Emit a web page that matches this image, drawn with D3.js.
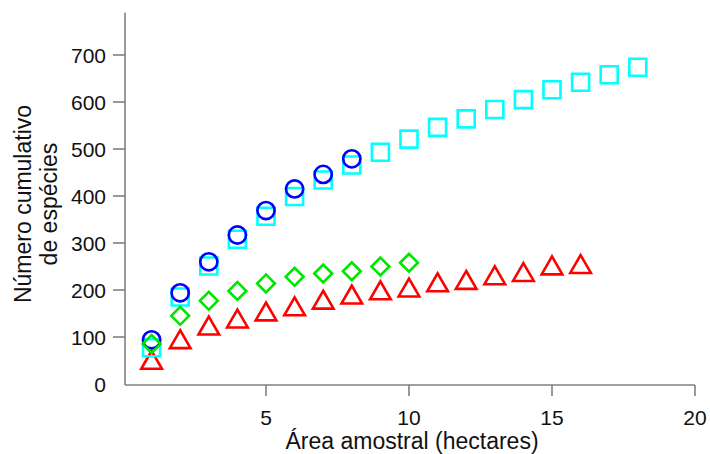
<!DOCTYPE html>
<html><head><meta charset="utf-8">
<script src="https://cdn.jsdelivr.net/npm/d3@7"></script>
<style>body{margin:0;background:#fff;} text{font-family:"Liberation Sans",Arial,sans-serif;fill:#111;}</style>
</head><body><svg id="c" width="710" height="454"></svg>
<script>
// Data
const circleX = [1,2,3,4,5,6,7,8];
const circleVals = [94,194,260,317,369,415,446,479];
const squareX = [1,2,3,4,5,6,7,8,9,10,11,12,13,14,15,16,17,18];
const squareVals = [77,185,251,308,357,399,434,466,493,521,546,564,584,605,626,642,658,674];
const diamondX = [1,2,3,4,5,6,7,8,9,10];
const diamondVals = [85,145,177,198,214,228,235,240,250,258];
const triangleX = [1,2,3,4,5,6,7,8,9,10,11,12,13,14,15,16];
const triangleVals = [45,89,118,133,148,159,173,184,193,199,210,215,225,232,246,249];
const xTicks = [5,10,15,20];
const yTicks = [0,100,200,300,400,500,600,700];
const xTitle = "Área amostral (hectares)";
const yTitle = ["Número cumulativo","de espécies"];

const svg = d3.select("#c");
const x = d3.scaleLinear().domain([0,20]).range([123,695]);
const y = d3.scaleLinear().domain([0,700]).range([384,55]);
const axisColor = "#808080";
const axX = 125, axY = 385, axTop = y(790);

// axes lines
svg.append("line").attr("x1",axX).attr("x2",axX).attr("y1",axTop).attr("y2",axY)
  .attr("stroke",axisColor).attr("stroke-width",1.6);
svg.append("line").attr("x1",axX).attr("x2",x(20)).attr("y1",axY).attr("y2",axY)
  .attr("stroke",axisColor).attr("stroke-width",1.6);

// x ticks
const gx = svg.append("g");
gx.selectAll("line").data(xTicks).join("line")
  .attr("x1",d=>x(d)).attr("x2",d=>x(d)).attr("y1",axY).attr("y2",axY+11)
  .attr("stroke",axisColor).attr("stroke-width",1.6);
gx.selectAll("text").data(xTicks).join("text")
  .attr("x",d=>x(d)).attr("y",425).attr("text-anchor","middle")
  .attr("font-size",21).text(d=>d);

// y ticks
const gy = svg.append("g");
gy.selectAll("line").data(yTicks.filter(d=>d>0)).join("line")
  .attr("x1",axX-12).attr("x2",axX).attr("y1",d=>y(d)).attr("y2",d=>y(d))
  .attr("stroke",axisColor).attr("stroke-width",1.6);
gy.selectAll("text").data(yTicks).join("text")
  .attr("x",106).attr("y",d=>y(d)).attr("dy","0.36em").attr("text-anchor","end")
  .attr("font-size",21).text(d=>d);

// titles
svg.append("text").attr("x",(axX+x(20))/2 + 2).attr("y",449).attr("text-anchor","middle")
  .attr("font-size",23).text(xTitle);
const yt = svg.append("text").attr("transform","translate(0,204) rotate(-90)")
  .attr("text-anchor","middle").attr("font-size",23);
yt.append("tspan").attr("x",0).attr("y",31).text(yTitle[0]);
yt.append("tspan").attr("x",0).attr("y",57).text(yTitle[1]);

const sw = 2.6;
// triangles
const tri = d3.symbol().type(d3.symbolTriangle).size(185);
svg.append("g").selectAll("path").data(triangleX).join("path")
  .attr("d",tri).attr("transform",(d,i)=>`translate(${x(d)},${y(triangleVals[i])})`)
  .attr("fill","none").attr("stroke","#ff0000").attr("stroke-width",sw);
// squares
const sq = d3.symbol().type(d3.symbolSquare).size(17*17);
svg.append("g").selectAll("path").data(squareX).join("path")
  .attr("d",sq).attr("transform",(d,i)=>`translate(${x(d)},${y(squareVals[i])})`)
  .attr("fill","none").attr("stroke","#00ffff").attr("stroke-width",sw);
// circles
svg.append("g").selectAll("circle").data(circleX).join("circle")
  .attr("cx",d=>x(d)).attr("cy",(d,i)=>y(circleVals[i])).attr("r",8.6)
  .attr("fill","none").attr("stroke","#0000ff").attr("stroke-width",sw);
// diamonds
svg.append("g").selectAll("path").data(diamondX).join("path")
  .attr("d",d3.symbol().type(d3.symbolSquare).size(12.6*12.6))
  .attr("transform",(d,i)=>`translate(${x(d)},${y(diamondVals[i])}) rotate(45)`)
  .attr("fill","none").attr("stroke","#00e600").attr("stroke-width",sw);
</script></body></html>
